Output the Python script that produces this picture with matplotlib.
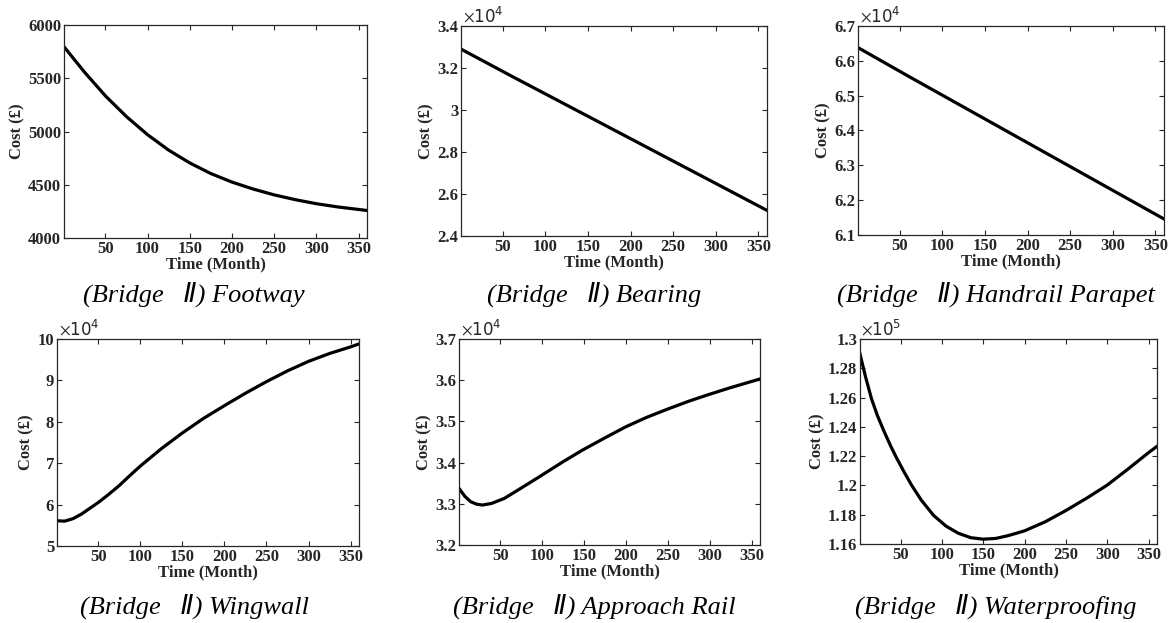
import numpy as np
import matplotlib.pyplot as plt
from matplotlib.ticker import FuncFormatter

plt.rcParams['mathtext.fontset'] = 'stix'

# values (month, cost)
m_footway = [1, 25, 50, 75, 100, 125, 150, 175, 200, 225, 250, 275, 300, 325, 350, 360]
footway = [5796, 5560, 5335, 5140, 4970, 4825, 4705, 4605, 4525, 4460, 4405, 4360,
           4322, 4292, 4268, 4258]

m_bearing = [1, 60, 120, 180, 240, 300, 360]
bearing = [32900, 31620, 30340, 29060, 27780, 26500, 25220]

m_handrail = [1, 60, 120, 180, 240, 300, 360]
handrail = [66380, 65560, 64740, 63920, 63100, 62280, 61460]

m_wingwall = [1, 10, 20, 30, 40, 50, 62, 75, 87, 100, 125, 150, 175, 200, 225, 250,
              275, 300, 325, 350, 360]
wingwall = [56100, 56000, 56600, 57700, 59100, 60500, 62400, 64600, 66900, 69300,
            73500, 77300, 80800, 83900, 86900, 89700, 92300, 94600, 96500, 98100, 98800]

m_approach = [1, 8, 15, 22, 29, 40, 55, 75, 94, 125, 148, 175, 200, 225, 250, 275,
              300, 325, 350, 360]
approach = [33376, 33180, 33050, 32990, 32970, 33010, 33130, 33380, 33620, 34020,
            34300, 34600, 34870, 35100, 35300, 35490, 35660, 35820, 35970, 36030]

m_waterproof = [1, 8, 15, 22, 30, 38, 45, 54, 63, 75, 90, 105, 120, 135, 150, 165,
                180, 200, 225, 250, 275, 300, 325, 350, 360]
waterproof = [128970, 127350, 125900, 124780, 123700, 122700, 121900, 120950, 120050,
              119000, 117950, 117220, 116730, 116430, 116330, 116380, 116570, 116900,
              117520, 118290, 119130, 120030, 121120, 122250, 122670]

names = ['Footway', 'Bearing', 'Handrail Parapet', 'Wingwall', 'Approach Rail', 'Waterproofing']
xs = [m_footway, m_bearing, m_handrail, m_wingwall, m_approach, m_waterproof]
series = [footway, bearing, handrail, wingwall, approach, waterproof]
ylims = [(4000, 6000), (24000, 34000), (61000, 67000), (50000, 100000), (32000, 37000), (116000, 130000)]
yticks = [np.arange(4000, 6001, 500), np.arange(24000, 34001, 2000), np.arange(61000, 67001, 1000),
          np.arange(50000, 100001, 10000), np.arange(32000, 37001, 1000), np.arange(116000, 130001, 2000)]
scales = [0, 4, 4, 4, 4, 5]

W, H = 1171, 623
# axes boxes in pixels: left, top, right, bottom
boxes = [(64, 25, 367, 238), (461, 26, 767, 236), (858, 26, 1164, 235),
         (57, 339, 359, 546), (459, 339, 760, 545), (860, 339, 1157, 544)]
cap_x = [194, 594, 996, 194, 594, 996]
cap_y = [294, 294, 294, 606, 606, 606]

fig = plt.figure(figsize=(W / 100, H / 100), dpi=100)
serif = 'Liberation Serif'
dark = '#262626'

for i in range(6):
    l, t, r, b = boxes[i]
    ax = fig.add_axes([l / W, 1 - b / H, (r - l) / W, (b - t) / H])
    ax.plot(xs[i], series[i], color='black', lw=2.3)
    ax.set_xlim(1, 360)
    ax.set_ylim(*ylims[i])
    ax.set_xticks([50, 100, 150, 200, 250, 300, 350])
    ax.set_yticks(yticks[i])
    s = scales[i]
    ax.yaxis.set_major_formatter(FuncFormatter(lambda v, p, s=s: '%g' % round(v / 10 ** s, 4)))
    ax.tick_params(direction='in', top=True, right=True, length=3.5, width=0.8,
                   labelsize=12, colors=dark, pad=2)
    for lab in ax.get_xticklabels() + ax.get_yticklabels():
        lab.set_fontfamily(serif)
        lab.set_fontweight('bold')
    for sp in ax.spines.values():
        sp.set_linewidth(0.9)
        sp.set_color(dark)
    ax.set_xlabel('Time (Month)', fontfamily=serif, fontweight='bold', fontsize=12,
                  color=dark, labelpad=0)
    ax.set_ylabel('Cost (£)', fontfamily=serif, fontweight='bold', fontsize=12,
                  color=dark, labelpad=2)
    if s:
        ax.text(0.005, 1.0, r'$\times\mathregular{10^{%d}}$' % s, transform=ax.transAxes,
                ha='left', va='bottom', fontsize=12, color=dark)
    fig.text(cap_x[i] / W, 1 - cap_y[i] / H, '(Bridge   Ⅱ) ' + names[i], ha='center', va='center',
             fontsize=19, style='italic', family=[serif, 'DejaVu Sans'])

fig.savefig('out.png', dpi=100)
